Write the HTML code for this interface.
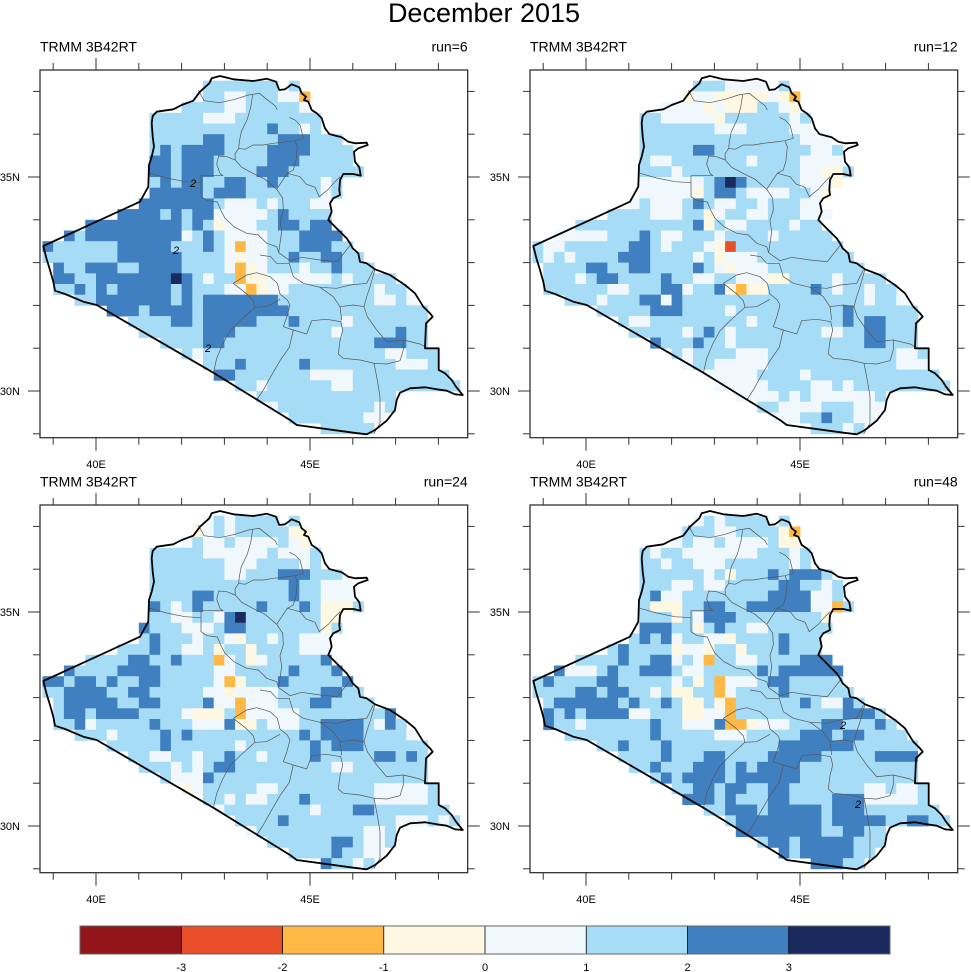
<!DOCTYPE html>
<html><head><meta charset="utf-8">
<style>
html,body{margin:0;padding:0;background:#fff;}
svg{display:block;}
text{font-family:"Liberation Sans",Arial,sans-serif;fill:#000;}
</style></head><body>
<svg id="s" width="971" height="972" viewBox="0 0 971 972" xmlns="http://www.w3.org/2000/svg">
<rect x="0" y="0" width="971" height="972" fill="#fff"/>
<text x="484" y="22" font-size="27" text-anchor="middle">December 2015</text>
<g id="cb">
<rect x="80" y="926" width="101.25" height="28" fill="#921619"/>
<rect x="181.25" y="926" width="101.25" height="28" fill="#e84e2a"/>
<rect x="282.5" y="926" width="101.25" height="28" fill="#feb845"/>
<rect x="383.75" y="926" width="101.25" height="28" fill="#fef8e2"/>
<rect x="485" y="926" width="101.25" height="28" fill="#f1f8fd"/>
<rect x="586.25" y="926" width="101.25" height="28" fill="#a6dcf6"/>
<rect x="687.5" y="926" width="101.25" height="28" fill="#4080c0"/>
<rect x="788.75" y="926" width="101.25" height="28" fill="#1b2a5e"/>
<g stroke="#000" stroke-width="0.8">
<line x1="181.25" y1="926" x2="181.25" y2="954"/><line x1="282.5" y1="926" x2="282.5" y2="954"/>
<line x1="383.75" y1="926" x2="383.75" y2="954"/><line x1="485" y1="926" x2="485" y2="954"/>
<line x1="586.25" y1="926" x2="586.25" y2="954"/><line x1="687.5" y1="926" x2="687.5" y2="954"/>
<line x1="788.75" y1="926" x2="788.75" y2="954"/>
</g>
<rect x="80" y="926" width="810" height="28" fill="none" stroke="#666" stroke-width="1"/>
<g font-size="11" text-anchor="middle">
<text x="181.25" y="971">-3</text><text x="282.5" y="971">-2</text><text x="383.75" y="971">-1</text>
<text x="485" y="971">0</text><text x="586.25" y="971">1</text><text x="687.5" y="971">2</text><text x="788.75" y="971">3</text>
</g>
</g>
<g id="panels"></g>
</svg>
<script>
(function(){
var COL={a:'#a6dcf6',b:'#4080c0',w:'#f1f8fd',y:'#fef8e2',o:'#feb845',r:'#e84e2a',n:'#1b2a5e',d:'#921619'};
var PZ=[[130,648],[420,515],[445,470],[447,405],[455,380],[462,350],[458,320],[455,280],[458,258],[470,245],[520,238],[545,225],[580,212],[600,185],[628,160],[635,145],[660,138],[700,148],[760,153],[800,146],[828,155],[838,180],[855,178],[875,163],[898,172],[905,190],[918,200],[912,210],[925,215],[935,240],[950,250],[965,265],[975,295],[988,312],[1010,318],[1025,322],[1045,335],[1065,340],[1100,338],[1103,345],[1075,355],[1062,365],[1065,395],[1078,412],[1082,437],[1060,432],[1030,432],[1020,450],[1018,480],[1020,495],[1000,505],[990,520],[995,545],[985,570],[1000,585],[1020,605],[1040,625],[1050,640],[1058,655],[1075,670],[1080,695],[1100,700],[1125,718],[1170,735],[1215,765],[1245,790],[1270,830],[1290,850],[1298,860],[1278,880],[1275,955],[1316,955],[1316,1020],[1335,1030],[1355,1050],[1368,1070],[1388,1095],[1365,1093],[1340,1082],[1310,1078],[1275,1072],[1230,1075],[1200,1088],[1190,1110],[1185,1140],[1160,1172],[1125,1200],[1100,1213],[1060,1208],[890,1185],[870,1170],[640,1028],[290,825],[250,815],[195,792],[165,782],[160,755],[150,720],[140,688]];
var P=PZ.map(function(p){return [(p[0]-120)/3,(p[1]-120)/3];});
function inside(x,y){var c=false;for(var i=0,j=P.length-1;i<P.length;j=i++){var xi=P[i][0],yi=P[i][1],xj=P[j][0],yj=P[j][1];if(((yi>y)!=(yj>y))&&(x<(xj-xi)*(y-yi)/(yj-yi)+xi))c=!c;}return c;}
var CW=10.7,X0=2.5,W=427.7,H=367.7,NC=40,NR=35;
var mask=[];for(var j=0;j<NR;j++){mask[j]=[];for(var i=0;i<NC;i++){mask[j][i]=inside(X0+CW*(i+.5),CW*(j+.5));}}
var LINES=[
[[595,180],[612,212],[660,218],[705,208],[745,195],[778,190],[800,208],[826,228],[832,240]],
[[758,195],[752,232],[742,268],[724,305],[718,335],[716,355],[705,372],[706,390]],
[[868,262],[885,270],[900,285],[905,305],[910,325],[885,332],[855,336],[820,340],[790,345],[760,345],[735,358],[716,355]],
[[706,390],[725,412],[755,428],[795,448],[830,478],[845,455],[862,430],[880,420],[888,392],[892,350],[885,332]],
[[862,430],[900,440],[918,462],[945,472],[958,500],[985,478],[1005,455],[1020,440]],
[[450,430],[500,444],[555,455],[603,458]],
[[706,390],[680,380],[656,378],[650,402],[660,430],[668,437],[603,437],[603,500],[622,512],[652,516],[662,540],[675,565],[702,590],[740,610],[775,615],[800,640],[830,650],[836,668]],
[[830,478],[848,505],[850,540],[840,572],[845,605],[840,640],[836,668],[870,692],[905,682],[960,690],[1012,695],[1055,640]],
[[780,675],[812,680],[830,700],[868,700],[880,740],[910,760],[960,772],[1010,775],[1050,765],[1100,760],[1120,720]],
[[700,760],[740,735],[770,728],[810,740],[832,760],[840,792],[862,810],[870,825],[860,862],[850,890]],
[[700,760],[738,790],[760,812],[765,832],[720,872],[690,902],[668,942],[650,985],[640,1030]],
[[765,832],[800,830],[840,808]],
[[880,900],[868,952],[840,992],[812,1040],[790,1080],[770,1110]],
[[850,890],[880,900],[920,912],[935,872],[980,868],[1022,875],[1028,900],[1020,932],[1015,972],[1030,985],[1080,990],[1122,1000],[1132,1050],[1140,1100],[1140,1180],[1122,1210]],
[[1020,830],[1060,825],[1092,830],[1102,860],[1130,900],[1160,935],[1210,930],[1260,942],[1278,952]],
[[1122,1000],[1160,1002],[1200,992],[1210,960],[1210,930]],
[[1125,718],[1110,770],[1100,800],[1092,830]],
[[1020,830],[1025,870]],
[[960,772],[1000,800],[1020,830]]
];
function f(v){return v.toFixed(1);}
var polyStr=P.map(function(p){return f(p[0])+','+f(p[1]);}).join(' ');
var linesStr=LINES.map(function(l){return '<polyline points="'+l.map(function(p){return f((p[0]-120)/3)+','+f((p[1]-120)/3);}).join(' ')+'"/>';}).join('');
var D1="w 14 2 14 2|w 17 2 18 3|w 22 2 23 2|o 24 2 24 2|w 24 3 24 3|w 15 4 17 4|b 21 5 21 5|w 24 5 24 5|b 15 6 16 6|b 22 6 24 6|b 13 7 16 7|b 13 8 15 9|b 11 7 11 9|b 10 8 10 9|b 21 7 24 7|b 21 8 23 8|b 20 9 22 9|b 11 10 11 10|b 13 10 14 10|b 17 10 18 10|b 21 10 21 10|w 26 10 26 11|b 10 11 14 11|b 16 11 18 11|b 9 12 15 12|w 17 12 19 12|w 21 12 21 12|w 25 12 26 12|b 7 13 10 13|b 12 13 12 13|b 14 13 15 13|w 16 13 20 13|b 22 13 22 13|b 4 14 12 14|b 14 14 14 14|y 16 14 16 14|w 17 14 19 14|b 22 14 23 14|b 25 14 26 14|b 2 15 2 15|b 4 15 12 15|w 13 15 13 15|b 15 15 15 15|w 17 15 20 15|b 24 15 27 15|b 0 16 0 16|b 7 16 11 16|b 15 16 15 16|w 17 16 17 16|o 18 16 18 16|w 19 16 20 16|b 24 16 26 16|b 7 17 12 17|w 17 17 17 17|y 18 17 18 17|w 19 17 20 17|b 23 17 23 17|b 26 17 27 17|b 1 18 1 18|b 4 18 6 18|b 9 18 12 18|w 17 18 17 18|o 18 18 18 19|y 19 18 19 18|w 20 18 20 18|w 24 18 24 18|b 27 18 27 18|b 1 19 2 19|b 5 19 11 19|n 12 19 12 19|b 13 19 13 19|w 15 19 15 19|y 19 19 20 19|w 21 19 26 19|w 28 19 28 19|b 3 20 3 20|b 5 20 5 20|b 7 20 11 20|b 13 20 13 20|w 17 20 18 20|o 19 20 19 20|y 20 20 20 20|w 21 20 22 20|w 31 20 31 20|b 5 21 11 21|b 13 21 13 21|b 15 21 21 21|w 31 21 32 21|w 34 21 34 21|b 6 22 8 22|b 10 22 13 22|b 15 22 22 22|b 12 23 13 23|b 15 23 19 23|b 23 23 23 23|w 28 23 28 23|b 15 24 17 24|w 27 24 27 24|b 33 24 33 24|b 15 25 16 25|b 31 25 33 25|w 14 26 14 26|w 32 26 33 26|b 18 27 18 27|b 24 27 24 27|w 33 27 35 27|b 16 28 17 28|w 25 28 28 28|w 20 29 20 29|w 27 29 28 29|w 21 31 21 31|w 31 31 31 32|w 30 32 30 32";
var D2="w 18 1 21 1|y 14 2 14 2|w 15 2 16 2|y 17 2 21 2|w 22 2 22 2|y 23 2 23 2|o 24 2 24 2|w 12 3 15 3|y 16 3 16 3|w 17 3 17 3|y 18 3 20 3|w 23 3 23 3|y 24 3 24 3|w 12 4 16 4|y 17 4 17 4|w 24 4 24 4|w 17 5 19 5|w 24 5 25 5|w 25 6 27 6|b 15 7 16 7|w 26 7 27 7|w 11 8 12 8|w 20 8 20 8|w 25 8 28 8|w 13 9 13 9|w 25 9 26 9|y 27 9 28 9|w 10 10 15 10|b 17 10 17 10|n 18 10 18 10|b 19 10 19 10|w 25 10 27 10|y 28 10 28 10|w 10 11 14 11|y 15 11 15 11|b 17 11 18 11|w 20 11 23 11|w 26 11 26 11|y 27 11 27 11|w 9 12 9 12|w 11 12 13 12|b 15 12 15 12|w 17 12 18 12|w 21 12 21 12|w 25 12 26 12|w 11 13 13 13|y 16 13 16 13|w 17 13 17 13|w 20 13 21 13|w 25 13 27 13|b 15 14 15 14|y 16 14 16 14|w 18 14 19 14|w 24 14 24 14|w 2 15 6 15|b 10 15 10 15|w 12 15 13 15|w 17 15 17 15|w 22 15 22 15|w 1 16 2 16|b 9 16 10 16|w 12 16 12 16|w 16 16 16 16|y 17 16 17 16|r 18 16 18 16|w 1 17 1 17|w 3 17 3 17|b 8 17 10 17|w 15 17 15 17|y 17 17 17 17|w 18 17 20 17|b 5 18 6 18|b 9 18 10 18|b 15 18 15 18|w 17 18 17 18|y 18 18 18 18|w 19 18 21 18|w 4 19 4 19|b 6 19 7 19|b 12 19 12 19|w 15 19 16 19|w 19 19 21 19|y 22 19 23 19|w 28 19 28 19|w 7 20 8 20|b 12 20 13 20|w 14 20 14 20|b 17 20 17 20|y 18 20 18 20|o 19 20 19 20|y 20 20 21 20|b 26 20 26 20|w 28 20 28 20|w 31 20 31 20|w 6 21 6 21|b 10 21 11 21|w 12 21 12 21|b 13 21 13 21|w 31 21 31 21|w 34 21 34 21|b 11 22 13 22|w 18 22 18 22|b 29 22 29 22|w 9 23 10 23|w 20 23 20 23|b 29 23 29 23|b 31 23 32 23|w 14 24 14 24|b 16 24 16 24|w 18 24 18 24|w 27 24 28 24|b 31 24 32 24|b 11 25 11 25|b 15 25 15 25|w 18 25 18 25|b 31 25 32 25|w 14 26 14 26|w 19 26 21 26|w 34 26 35 26|w 14 27 14 27|w 17 27 21 27|w 34 27 36 27|w 16 28 20 28|w 25 28 25 28|w 17 29 21 29|w 26 29 27 29|w 29 29 29 29|w 19 30 22 30|w 24 30 24 30|w 26 30 31 30|w 23 31 26 31|w 30 31 32 31|w 22 32 24 32|b 27 32 27 32|w 30 32 31 32|w 29 33 29 33";
var D3="w 15 1 15 1|w 17 1 17 1|y 14 2 14 2|w 15 2 15 2|w 17 2 17 2|y 23 2 24 2|w 13 3 13 3|w 15 3 16 3|w 18 3 21 3|w 23 3 23 3|y 24 3 24 3|w 15 4 20 4|w 22 4 24 4|w 17 5 19 5|w 24 5 24 5|w 17 6 18 6|b 22 6 24 6|b 23 7 23 7|w 26 7 28 7|b 14 8 15 8|b 23 8 23 8|w 26 8 28 8|b 10 9 10 9|w 12 9 12 9|b 14 9 14 9|b 20 9 20 9|b 24 9 24 9|y 26 9 28 9|w 12 10 13 10|w 16 10 16 10|b 17 10 17 10|n 18 10 18 10|y 26 10 27 10|b 9 11 9 11|w 13 11 15 11|b 17 11 18 11|y 26 11 26 11|b 10 12 10 12|w 14 12 14 12|w 17 12 17 12|y 18 12 18 12|w 21 12 21 12|w 24 12 26 12|b 10 13 10 13|w 13 13 14 13|y 16 13 16 13|y 19 13 19 13|w 24 13 26 13|b 8 14 9 14|b 12 14 12 14|o 16 14 16 14|w 17 14 17 14|y 19 14 19 14|w 20 14 20 14|b 26 14 26 14|b 2 15 2 15|b 7 15 10 15|w 16 15 17 15|b 23 15 23 15|b 27 15 27 15|b 0 16 1 16|b 3 16 4 16|b 6 16 6 16|b 9 16 10 16|w 16 16 16 16|o 17 16 17 16|y 18 16 18 16|b 22 16 22 16|b 28 16 28 16|b 2 17 5 17|b 8 17 9 17|w 15 17 16 17|y 17 17 17 17|w 18 17 21 17|b 26 17 27 17|b 2 18 6 18|b 9 18 10 18|b 15 18 15 18|w 16 18 17 18|o 18 18 18 18|w 19 18 21 18|b 25 18 26 18|b 2 19 3 19|b 5 19 8 19|w 13 19 13 19|y 14 19 16 19|o 18 19 18 19|w 19 19 23 19|b 32 19 32 19|b 3 20 3 20|w 4 20 4 20|b 10 20 10 20|w 14 20 16 20|b 17 20 17 20|y 18 20 19 20|w 21 20 23 20|b 26 20 29 20|w 31 20 31 20|b 32 20 32 20|w 6 21 6 21|b 11 21 11 21|b 13 21 13 21|b 24 21 24 21|b 26 21 29 21|w 34 21 34 21|b 11 22 11 22|w 18 22 18 22|b 25 22 25 22|b 27 22 29 22|w 10 23 11 23|w 14 23 14 23|b 17 23 17 23|w 20 23 20 23|b 25 23 25 23|b 31 23 32 23|b 34 23 34 23|w 12 24 12 24|w 14 24 14 24|b 16 24 17 24|w 27 24 28 24|w 12 25 14 25|b 15 25 15 25|y 13 26 13 26|w 14 26 14 26|w 20 26 21 26|w 31 26 35 26|w 17 27 17 27|w 19 27 20 27|b 24 27 24 27|w 31 27 35 27|w 16 28 16 28|w 25 28 25 28|b 29 28 30 28|b 22 29 22 29|w 33 29 35 29|w 37 29 37 29|w 19 30 19 30|w 30 30 31 30|b 27 31 28 31|w 30 31 31 31|b 27 32 27 32|w 30 32 31 32|b 26 33 26 33|w 29 33 29 33";
var D4="w 15 1 15 1|w 17 1 17 1|w 17 2 18 2|y 23 2 23 2|o 24 2 24 2|w 13 3 13 3|w 15 3 16 3|w 18 3 21 3|y 23 3 24 3|w 11 4 11 4|w 14 4 20 4|w 24 4 24 4|w 12 5 12 5|w 15 5 17 5|w 24 5 24 5|w 16 6 16 6|y 18 6 18 6|b 22 6 22 6|b 24 6 26 6|w 13 7 14 7|w 16 7 17 7|b 23 7 24 7|w 27 7 27 7|b 11 8 11 8|w 12 8 13 8|b 22 8 25 8|w 26 8 27 8|y 11 9 13 9|b 16 9 17 9|b 20 9 25 9|w 26 9 27 9|o 28 9 28 9|y 13 10 13 10|w 15 10 15 10|b 16 10 18 10|y 27 10 27 10|b 10 11 12 11|y 15 11 15 11|b 17 11 17 11|w 20 11 21 11|b 10 12 10 12|b 12 12 12 12|w 13 12 13 12|w 16 12 17 12|y 18 12 18 12|b 23 12 23 12|b 8 13 8 13|y 13 13 13 13|w 14 13 15 13|y 16 13 16 13|y 19 13 19 13|b 23 13 23 13|b 8 14 8 14|b 11 14 12 14|w 13 14 13 14|w 15 14 15 14|o 16 14 16 14|w 19 14 20 14|b 25 14 27 14|b 2 15 2 15|w 3 15 5 15|b 7 15 7 15|b 10 15 12 15|w 14 15 15 15|b 21 15 21 15|b 23 15 28 15|b 1 16 1 16|b 6 16 7 16|w 13 16 13 16|y 15 16 15 16|o 17 16 17 16|w 18 16 20 16|b 22 16 23 16|b 4 17 5 17|b 7 17 8 17|w 11 17 11 17|y 13 17 14 17|o 17 17 17 17|w 18 17 18 17|b 23 17 23 17|b 2 18 7 18|b 9 18 9 18|b 12 18 12 18|y 14 18 15 18|y 17 18 17 18|o 18 18 18 18|b 25 18 25 18|w 27 18 28 18|b 29 18 29 18|b 1 19 1 19|b 3 19 3 19|b 5 19 8 19|w 9 19 10 19|y 14 19 15 19|w 16 19 17 19|o 18 19 18 19|b 29 19 31 19|b 1 20 1 20|w 4 20 4 20|b 11 20 11 20|w 14 20 16 20|b 17 20 17 20|o 18 20 19 20|y 20 20 20 20|w 21 20 23 20|b 27 20 28 20|b 32 20 32 20|b 11 21 11 21|w 17 21 19 21|b 25 21 27 21|b 29 21 30 21|b 8 22 8 22|b 12 22 12 22|b 23 22 29 22|b 12 23 12 23|b 16 23 17 23|b 22 23 26 23|b 32 23 35 23|b 11 24 11 24|b 15 24 17 24|b 19 24 19 24|b 21 24 24 24|b 12 25 12 25|b 14 25 17 25|b 19 25 24 25|b 15 26 16 26|b 18 26 19 26|b 22 26 23 26|w 31 26 32 26|w 34 26 35 26|b 14 27 16 27|b 18 27 18 27|b 22 27 23 27|b 28 27 30 27|w 31 27 35 27|b 18 28 20 28|b 22 28 26 28|b 28 28 30 28|b 19 29 26 29|b 28 29 32 29|b 35 29 36 29|b 19 30 26 30|b 29 30 30 30|b 22 31 23 31|b 25 31 29 31|b 23 32 23 32|b 25 32 29 32|b 26 33 28 33";
function lx(lon){return 56+(lon-40)*42.8;}
function ly(lat){return 107-(lat-35)*42.8;}
function panel(ox,oy,lbl,data,twos,id){
 var g=[],i,j;
 for(j=0;j<NR;j++){g[j]=[];for(i=0;i<NC;i++)g[j][i]=mask[j][i]?'a':null;}
 data.split('|').forEach(function(s){var t=s.trim().split(/\s+/);var c=t[0],c0=+t[1],r0=+t[2],c1=+t[3],r1=+t[4];for(var jj=r0;jj<=r1;jj++)for(var ii=c0;ii<=c1;ii++)g[jj][ii]=c;});
 var h='<g transform="translate('+ox+','+oy+')">';
 h+='<clipPath id="cp'+id+'"><rect x="0" y="0" width="'+W+'" height="'+H+'"/></clipPath><g clip-path="url(#cp'+id+')">';
 for(j=0;j<NR;j++)for(i=0;i<NC;i++){if(g[j][i])h+='<rect x="'+(X0+CW*i).toFixed(2)+'" y="'+(CW*j).toFixed(2)+'" width="11.1" height="11.1" fill="'+COL[g[j][i]]+'"/>';}
 h+='<g fill="none" stroke="#555" stroke-width="0.7">'+linesStr+'</g>';
 h+='<polygon points="'+polyStr+'" fill="none" stroke="#000" stroke-width="1.8" stroke-linejoin="round"/>';
 twos.forEach(function(t){h+='<text x="'+t[0]+'" y="'+(t[1]+4)+'" font-size="11" font-style="italic" text-anchor="middle" fill="#222">2</text>';});
 h+='</g>';
 h+='<rect x="0" y="0" width="'+W+'" height="'+H+'" fill="none" stroke="#222" stroke-width="1.2"/>';
 h+='<g stroke="#333" stroke-width="1">';
 var lon,lat,x,y,L;
 for(lon=39;lon<=48;lon++){x=lx(lon);L=(lon%5==0)?12:7;h+='<line x1="'+x+'" y1="0" x2="'+x+'" y2="'+(-L)+'"/><line x1="'+x+'" y1="'+H+'" x2="'+x+'" y2="'+(H+L+(lon%5==0?1:0))+'"/>';}
 for(lat=29;lat<=37;lat++){y=ly(lat);L=(lat%5==0)?12:7;h+='<line x1="0" y1="'+y+'" x2="'+(-L)+'" y2="'+y+'"/><line x1="'+W+'" y1="'+y+'" x2="'+(W+L)+'" y2="'+y+'"/>';}
 h+='</g>';
 h+='<g font-size="11"><text x="'+lx(40)+'" y="398" text-anchor="middle">40E</text><text x="'+lx(45)+'" y="398" text-anchor="middle">45E</text>';
 h+='<text x="-20" y="'+(ly(35)+4)+'" text-anchor="end">35N</text><text x="-20" y="'+(ly(30)+4)+'" text-anchor="end">30N</text></g>';
 h+='<text x="0" y="-18.5" font-size="14">TRMM 3B42RT</text><text x="'+W+'" y="-18.5" font-size="14" text-anchor="end">'+lbl+'</text>';
 h+='</g>';
 return h;
}
var out='';
out+=panel(40,70,'run=6',D1,[[153,113],[136,180],[168,278]],1);
out+=panel(530,70,'run=12',D2,[],2);
out+=panel(40,505,'run=24',D3,[],3);
out+=panel(530,505,'run=48',D4,[[313,220],[328,299]],4);
document.getElementById('panels').innerHTML=out;
})();
</script>
</body></html>
